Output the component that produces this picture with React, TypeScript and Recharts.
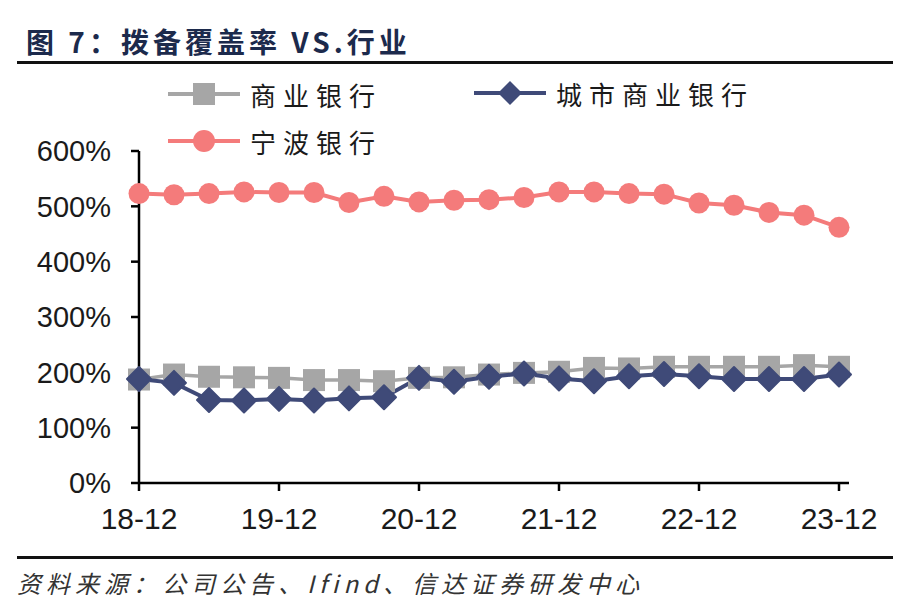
import React from 'react';
import { LineChart, Line, XAxis, YAxis } from 'recharts';

const quarters = [
  '18-12', '19-03', '19-06', '19-09', '19-12', '20-03', '20-06', '20-09', '20-12', '21-03', '21-06',
  '21-09', '21-12', '22-03', '22-06', '22-09', '22-12', '23-03', '23-06', '23-09', '23-12',
];
const yearTicks = ['18-12', '19-12', '20-12', '21-12', '22-12', '23-12'];
const pctTicks = [0, 100, 200, 300, 400, 500, 600];

// 商业银行
const commercial = [187, 196, 192, 191, 190, 186, 186, 184, 190, 191, 196, 199, 201, 208, 207, 210, 210, 210, 210, 213, 210];
// 城市商业银行
const cityBanks = [188, 181, 150, 149, 152, 149, 153, 155, 190, 183, 192, 198, 189, 184, 193, 197, 193, 188, 188, 188, 196];
// 宁波银行
const ningbo = [523, 521, 523, 526, 525, 525, 507, 518, 508, 511, 512, 516, 526, 526, 523, 522, 506, 502, 489, 484, 462];

const COLORS = {
  gray: '#a6a6a6',
  navy: '#3f4a78',
  salmon: '#f47b7b',
  text: '#1a1a1a',
  title: '#1c2a4c',
};

const data = quarters.map((q, i) => ({
  q,
  commercial: commercial[i],
  city: cityBanks[i],
  ningbo: ningbo[i],
}));

const SquareDot = (p: any) => (
  <rect key={`sq-${p.index}`} x={p.cx - 11} y={p.cy - 11} width={22} height={22} fill={COLORS.gray} />
);
const DiamondDot = (p: any) => (
  <path
    key={`dm-${p.index}`}
    d={`M${p.cx},${p.cy - 12} L${p.cx + 12},${p.cy} L${p.cx},${p.cy + 12} L${p.cx - 12},${p.cy} Z`}
    fill={COLORS.navy}
    stroke={COLORS.navy}
    strokeLinejoin="round"
    strokeWidth={2}
  />
);
const CircleDot = (p: any) => (
  <circle key={`ci-${p.index}`} cx={p.cx} cy={p.cy} r={10.5} fill={COLORS.salmon} />
);

const cjk = '"Noto Sans CJK SC", "Noto Sans", sans-serif';
const latin = '"Liberation Sans", Arial, sans-serif';

const LegendItem = ({ x, y, color, kind, label }: any) => (
  <div style={{ position: 'absolute', left: x, top: y - 18, height: 36, display: 'flex', alignItems: 'center' }}>
    <svg width={76} height={36}>
      <line x1={2} y1={18} x2={74} y2={18} stroke={color} strokeWidth={4} />
      {kind === 'square' && <rect x={27} y={7} width={22} height={22} fill={color} />}
      {kind === 'diamond' && <path d="M38,6 L50,18 L38,30 L26,18 Z" fill={color} />}
      {kind === 'circle' && <circle cx={38} cy={18} r={11} fill={color} />}
    </svg>
    <span style={{ marginLeft: 8, fontFamily: cjk, fontSize: 26, letterSpacing: 7, color: COLORS.text }}>{label}</span>
  </div>
);

export default function App() {
  return (
    <div style={{ position: 'absolute', left: 0, top: 0, width: 918, height: 614, background: '#fff', fontFamily: latin }}>
      <div
        style={{
          position: 'absolute', left: 26, top: 21, fontFamily: cjk, fontWeight: 700, fontSize: 28,
          letterSpacing: 4, color: COLORS.title, lineHeight: '40px', whiteSpace: 'nowrap',
        }}
      >
        图 7：拨备覆盖率 VS.行业
      </div>
      <div style={{ position: 'absolute', left: 17, top: 61, width: 876, height: 3, background: '#111' }} />

      <LineChart
        width={918}
        height={614}
        data={data}
        margin={{ top: 151, right: 69, bottom: 0, left: 0 }}
        style={{ position: 'absolute', left: 0, top: 0 }}
      >
        <XAxis
          dataKey="q"
          ticks={yearTicks}
          interval={0}
          height={131}
          padding={{ left: 0, right: 10 }}
          axisLine={{ stroke: '#000', strokeWidth: 2.5 }}
          tickLine={{ stroke: '#000', strokeWidth: 2.5 }}
          tickSize={8}
          tickMargin={17}
          tick={{ fill: COLORS.text, fontSize: 30, fontFamily: latin }}
        />
        <YAxis
          domain={[0, 600]}
          ticks={pctTicks}
          width={139}
          axisLine={{ stroke: '#000', strokeWidth: 2.5 }}
          tickLine={{ stroke: '#000', strokeWidth: 2.5 }}
          tickSize={8}
          tickMargin={20}
          tickFormatter={(v: number) => `${v}%`}
          tick={{ fill: COLORS.text, fontSize: 29, fontFamily: latin }}
        />
        <Line dataKey="commercial" stroke={COLORS.gray} strokeWidth={3.5} dot={SquareDot} isAnimationActive={false} />
        <Line dataKey="city" stroke={COLORS.navy} strokeWidth={4} dot={DiamondDot} isAnimationActive={false} />
        <Line dataKey="ningbo" stroke={COLORS.salmon} strokeWidth={4} dot={CircleDot} isAnimationActive={false} />
      </LineChart>

      <LegendItem x={166} y={94} color={COLORS.gray} kind="square" label="商业银行" />
      <LegendItem x={472} y={93} color={COLORS.navy} kind="diamond" label="城市商业银行" />
      <LegendItem x={166} y={141} color={COLORS.salmon} kind="circle" label="宁波银行" />

      <div style={{ position: 'absolute', left: 17, top: 556, width: 876, height: 3, background: '#111' }} />
      <div
        style={{
          position: 'absolute', left: 17, top: 566, fontFamily: cjk, fontStyle: 'italic', fontSize: 24,
          letterSpacing: 5, color: '#333', lineHeight: '34px', whiteSpace: 'nowrap',
        }}
      >
        资料来源：公司公告、Ifind、信达证券研发中心
      </div>
    </div>
  );
}
